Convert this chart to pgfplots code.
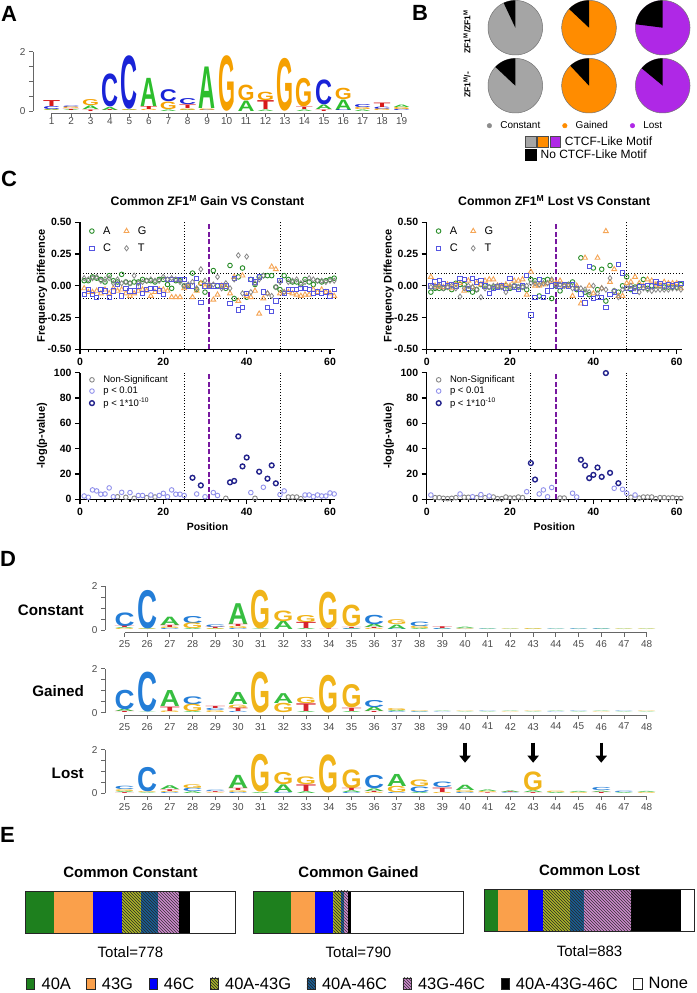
\documentclass[border=0pt]{standalone}
\usepackage{pgfplots}
\pgfplotsset{compat=1.18}
\usepackage{pgfplotstable}
\usepackage{graphicx}
\usepackage{fontspec}
\setmainfont{Liberation Sans}
\usetikzlibrary{arrows.meta,patterns}
\newcommand{\fs}[1]{\fontsize{#1}{#1}\selectfont}
\pgfplotsset{/pgf/number format/assume math mode=true}

\definecolor{aA}{RGB}{45,190,45}
\definecolor{aC}{RGB}{25,35,215}
\definecolor{aG}{RGB}{245,160,0}
\definecolor{aT}{RGB}{215,25,25}
\definecolor{dA}{RGB}{55,190,65}
\definecolor{dC}{RGB}{35,125,215}
\definecolor{dG}{RGB}{240,180,25}
\definecolor{dT}{RGB}{215,35,45}
\definecolor{cA}{RGB}{40,140,40}
\definecolor{cC}{RGB}{85,85,225}
\definecolor{cG}{RGB}{245,165,85}
\definecolor{cT}{RGB}{135,135,135}
\definecolor{pNS}{RGB}{135,135,135}
\definecolor{pLo}{RGB}{145,145,235}
\definecolor{pHi}{RGB}{35,35,140}
\definecolor{purp}{RGB}{120,25,160}
\definecolor{pieG}{RGB}{165,165,165}
\definecolor{pieO}{RGB}{255,140,0}
\definecolor{pieP}{RGB}{175,40,230}
\definecolor{e40A}{RGB}{30,128,30}
\definecolor{e43G}{RGB}{250,160,75}
\definecolor{e46C}{RGB}{0,0,250}
\definecolor{e4043}{RGB}{170,180,40}
\definecolor{e4046}{RGB}{25,95,150}
\definecolor{e4346}{RGB}{205,135,205}

\pgfplotsset{
 logo/.style={scale only axis, clip=false, enlargelimits=false,
  axis x line*=bottom, axis y line*=left,
  axis line style={-, draw=black!60, line width=0.9pt},
  tick style={draw=black!60, line width=0.9pt},
  tick align=outside, major tick length=4pt, minor tick length=4pt,
  ticklabel style={font=\fs{10}, text=black!70},
  ytick={0,2}, minor ytick={0.5,1,1.5}, ymax=2},
 lg/.style n args={5}{only marks, scatter, mark=*, mark size=0pt, mark options={draw=none,fill=none},
  point meta=explicit symbolic,
  restrict expr to domain={\thisrow{k}}{#1:#1},
  scatter/@pre marker code/.code={\node[anchor=south, inner sep=0pt, outer sep=0pt] at (0pt,0pt) {\textcolor{#3#2}{\resizebox{#4}{\pgfplotspointmeta\dimexpr#5\relax}{\fs{40}\bfseries #2}}};},
  scatter/@post marker code/.code={}},
 cax/.style={scale only axis, width=255pt, clip=false,
  axis x line*=bottom, axis y line*=left,
  axis line style={-, line width=1.5pt},
  tick style={line width=1.3pt, black}, tick align=outside,
  major tick length=5pt, minor tick length=3pt,
  xmin=0, xmax=61.2, xtick={0,20,40,60}, minor x tick num=9,
  ticklabel style={font=\bfseries\fs{10.5}},
  every axis title/.style={at={(axis description cs:0.5,1)}, anchor=center, yshift=21.6pt, font=\bfseries\fs{12.3}},
  every axis y label/.style={at={(axis description cs:-0.149,0.5)}, rotate=90, anchor=center, font=\bfseries\fs{11}},
  every axis x label/.style={at={(axis description cs:0.5,0)}, anchor=center, yshift=-27pt, font=\bfseries\fs{10.5}},
  legend cell align=left},
 mA/.style={only marks, mark=o, mark size=2.3pt, color=cA, line width=0.9pt},
 mC/.style={only marks, mark=square, mark size=2.2pt, color=cC, line width=0.9pt},
 mG/.style={only marks, mark=triangle, mark size=2.8pt, color=cG, line width=0.9pt},
 mT/.style={only marks, mark=diamond, mark size=2.6pt, color=cT, line width=0.8pt},
 mNS/.style={only marks, mark=o, mark size=2.3pt, color=pNS, line width=0.9pt},
 mLo/.style={only marks, mark=o, mark size=2.3pt, color=pLo, line width=0.9pt},
 mHi/.style={only marks, mark=o, mark size=2.4pt, color=pHi, line width=1.4pt},
 refd/.style={black, dotted, line width=0.8pt, forget plot},
 refp/.style={purp, line width=2.4pt, dash pattern=on 5pt off 2.5pt, forget plot},
 ebar/.style={scale only axis, width=210.3pt, height=42pt, xbar stacked, bar width=42pt,
  ymin=-0.5, ymax=0.5, xmin=0, enlargelimits=false, axis on top,
  axis line style={black!85, line width=0.9pt}, xtick=\empty, ytick=\empty,
  every axis title/.style={at={(axis description cs:0.5,1)}, anchor=center, yshift=19pt, font=\bfseries\fs{15}},
  every axis x label/.style={at={(axis description cs:0.5,0)}, anchor=center, yshift=-19pt, font=\fs{15}},
  legend image code/.code={\draw[#1, draw=black!85, line width=0.6pt] (0pt,-5.6pt) rectangle (8.3pt,6.1pt);}},
}
% #1 table, #2 colour prefix, #3 letter width, #4 height of one bit
\newcommand{\logoplots}[4]{%
 \addplot[lg={1}{A}{#2}{#3}{#4}] table[x=x,y=b,meta=h] {#1};
 \addplot[lg={2}{C}{#2}{#3}{#4}] table[x=x,y=b,meta=h] {#1};
 \addplot[lg={3}{G}{#2}{#3}{#4}] table[x=x,y=b,meta=h] {#1};
 \addplot[lg={4}{T}{#2}{#3}{#4}] table[x=x,y=b,meta=h] {#1};
}

\newcommand{\pie}[4]{%
 \addplot[forget plot, fill=#3, draw=black!55, line width=0.5pt, domain=0:360, samples=121, variable=\t] ({#1+27.3*cos(\t)},{#2+27.3*sin(\t)}) -- cycle;
 \addplot[forget plot, fill=black, draw=none, domain=90:90+360*#4, samples=40, variable=\t] ({#1+27.3*cos(\t)},{#2+27.3*sin(\t)}) -- (#1,#2) -- cycle;
}

% ---------- logo data (k: 1=A 2=C 3=G 4=T) ----------
\pgfplotstableread{
x b h k
1 0 0.02 3
1 0.02 0.04 1
1 0.06 0.10 2
1 0.16 0.20 4
2 0 0.03 1
2 0.03 0.04 4
2 0.07 0.05 3
2 0.12 0.05 2
3 0 0.05 4
3 0.05 0.12 1
3 0.17 0.20 3
4 0 0.03 4
4 0.03 0.10 1
4 0.13 1.10 2
5 0 0.03 1
5 0.03 0.03 3
5 0.06 1.78 2
6 0 0.04 3
6 0.04 0.10 4
6 0.14 0.95 1
7 0 0.05 1
7 0.05 0.25 3
7 0.30 0.40 2
8 0 0.03 1
8 0.03 0.05 3
8 0.08 0.12 4
8 0.20 0.20 2
9 0 0.03 2
9 0.03 0.05 3
9 0.08 1.40 1
10 0 1.85 3
11 0 0.35 1
11 0.35 0.52 3
12 0 0.05 1
12 0.05 0.30 4
12 0.35 0.28 3
13 0 1.76 3
14 0 0.05 1
14 0.05 0.08 4
14 0.13 0.95 3
15 0 0.05 4
15 0.05 0.15 1
15 0.20 0.83 2
16 0 0.03 2
16 0.03 0.35 1
16 0.38 0.38 3
17 0 0.05 1
17 0.05 0.07 3
17 0.12 0.10 2
18 0 0.05 3
18 0.05 0.08 2
18 0.13 0.15 4
19 0 0.04 2
19 0.04 0.07 3
19 0.11 0.08 1
}\lgAtab

\pgfplotstableread{
x b h k
25 0 0.05 3
25 0.05 0.05 1
25 0.10 0.06 4
25 0.16 0.62 2
26 0 0.03 1
26 0.03 0.03 3
26 0.06 1.74 2
27 0 0.05 2
27 0.05 0.07 3
27 0.12 0.10 4
27 0.22 0.38 1
28 0 0.05 1
28 0.05 0.25 3
28 0.30 0.32 2
29 0 0.03 1
29 0.03 0.04 3
29 0.07 0.06 4
29 0.13 0.12 2
30 0 0.05 2
30 0.05 0.10 3
30 0.15 0.10 4
30 0.25 0.95 1
31 0 0.03 1
31 0.03 1.75 3
32 0 0.38 1
32 0.38 0.48 3
33 0 0.05 1
33 0.05 0.28 4
33 0.33 0.32 3
34 0 0.03 4
34 0.03 1.66 3
35 0 0.04 1
35 0.04 0.04 2
35 0.08 0.05 4
35 0.13 0.98 3
36 0 0.05 3
36 0.05 0.05 4
36 0.10 0.15 1
36 0.25 0.42 2
37 0 0.03 2
37 0.03 0.20 1
37 0.23 0.22 3
38 0 0.05 1
38 0.05 0.10 3
38 0.15 0.20 2
39 0 0.03 1
39 0.03 0.05 2
39 0.08 0.08 4
40 0 0.02 2
40 0.02 0.03 3
40 0.05 0.06 1
41 0 0.02 2
41 0.02 0.03 1
42 0 0.02 3
42 0.02 0.02 1
43 0 0.02 1
43 0.02 0.04 3
44 0 0.02 1
44 0.02 0.02 2
45 0 0.02 1
45 0.02 0.03 2
46 0 0.03 1
46 0.03 0.03 2
47 0 0.02 1
47 0.02 0.02 3
48 0 0.02 3
48 0.02 0.02 1
}\lgDc

\pgfplotstableread{
x b h k
25 0 0.05 4
25 0.05 0.10 1
25 0.15 0.88 2
26 0 0.02 1
26 0.02 1.80 2
27 0 0.07 3
27 0.07 0.20 4
27 0.27 0.73 1
28 0 0.05 1
28 0.05 0.33 3
28 0.38 0.35 2
29 0 0.08 3
29 0.08 0.10 2
29 0.18 0.10 4
30 0 0.05 2
30 0.05 0.15 4
30 0.20 0.15 3
30 0.35 0.55 1
31 0 1.85 3
32 0 0.42 3
32 0.42 0.45 1
33 0 0.05 1
33 0.05 0.35 4
33 0.40 0.28 3
34 0 1.70 3
35 0 0.05 1
35 0.05 0.15 4
35 0.20 1.05 3
36 0 0.05 4
36 0.05 0.20 1
36 0.25 0.32 2
37 0 0.04 2
37 0.04 0.05 1
37 0.09 0.09 3
38 0 0.02 1
38 0.02 0.03 2
38 0.05 0.03 3
39 0 0.02 2
39 0.02 0.02 1
40 0 0.02 1
40 0.02 0.02 3
41 0 0.02 1
41 0.02 0.02 2
42 0 0.02 3
42 0.02 0.02 1
43 0 0.02 1
43 0.02 0.02 3
44 0 0.02 2
44 0.02 0.02 1
45 0 0.02 1
45 0.02 0.02 2
46 0 0.02 3
46 0.02 0.02 1
47 0 0.02 1
47 0.02 0.02 2
48 0 0.02 1
48 0.02 0.02 3
}\lgDg

\pgfplotstableread{
x b h k
25 0 0.04 4
25 0.04 0.05 1
25 0.09 0.08 3
25 0.17 0.15 2
26 0 0.03 1
26 0.03 0.04 3
26 0.07 1.10 2
27 0 0.05 2
27 0.05 0.05 3
27 0.10 0.08 4
27 0.18 0.17 1
28 0 0.08 1
28 0.08 0.15 2
28 0.23 0.17 3
29 0 0.03 3
29 0.03 0.04 4
29 0.07 0.06 2
30 0 0.05 2
30 0.05 0.08 3
30 0.13 0.10 4
30 0.23 0.60 1
31 0 0.05 1
31 0.05 1.70 3
32 0 0.05 2
32 0.05 0.35 1
32 0.40 0.55 3
33 0 0.08 1
33 0.08 0.30 4
33 0.38 0.35 3
34 0 1.72 3
35 0 0.05 2
35 0.05 0.08 1
35 0.13 0.10 4
35 0.23 0.85 3
36 0 0.05 3
36 0.05 0.05 4
36 0.10 0.12 1
36 0.22 0.60 2
37 0 0.05 2
37 0.05 0.28 3
37 0.33 0.55 1
38 0 0.05 1
38 0.05 0.25 2
38 0.30 0.30 3
39 0 0.05 3
39 0.05 0.20 4
39 0.25 0.25 2
40 0 0.05 2
40 0.05 0.08 3
40 0.13 0.24 1
41 0 0.03 4
41 0.03 0.05 3
41 0.08 0.07 1
42 0 0.03 2
42 0.03 0.03 4
42 0.06 0.07 1
43 0 0.04 4
43 0.04 0.08 1
43 0.12 0.85 3
44 0 0.05 1
44 0.05 0.06 3
45 0 0.04 3
45 0.04 0.05 1
46 0 0.05 4
46 0.05 0.06 1
46 0.11 0.14 2
47 0 0.04 1
47 0.04 0.06 2
48 0 0.04 3
48 0.04 0.05 1
}\lgDl

% ---------- panel C data ----------
\pgfplotstableread{
pos A C G T
1 0.04 -0.07 -0.02 0.06
2 0.04 -0.03 -0.05 0.05
3 0.07 -0.07 -0.05 0.06
4 0.06 -0.09 -0.04 0.07
5 0.05 -0.03 -0.06 0.04
6 0.03 -0.04 -0.03 0.05
7 0.08 -0.09 -0.06 0.06
8 0.04 -0.04 -0.02 0.02
9 0.03 0.01 -0.04 0.05
10 0.09 -0.08 -0.03 0.02
11 0.03 -0.02 -0.06 0.03
12 0.02 -0.04 -0.08 0.02
13 0.03 -0.04 -0.06 0.08
14 0.03 0.00 -0.04 0.02
15 0.05 -0.06 -0.03 0.03
16 0.04 -0.03 -0.04 0.04
17 0.04 -0.02 -0.08 0.05
18 0.03 -0.02 -0.05 0.04
19 0.05 -0.04 -0.03 0.04
20 0.05 -0.07 -0.03 0.07
21 0.01 0.05 -0.04 0.05
22 -0.02 0.05 -0.09 0.06
23 0.04 0.05 -0.09 0.05
24 0.04 0.05 -0.09 0.03
25 0.00 0.05 -0.02 0.00
26 0.00 0.00 -0.01 0.01
27 0.10 0.00 -0.09 0.03
28 -0.03 0.06 -0.04 -0.02
29 0.02 -0.13 0.02 0.13
30 -0.05 0.00 -0.01 0.04
31 0.00 0.00 0.00 0.01
32 0.12 0.00 -0.11 0.01
33 0.00 0.00 -0.07 0.07
34 0.00 0.00 0.00 -0.02
35 -0.02 0.00 -0.01 0.02
36 0.16 -0.14 -0.06 -0.02
37 -0.10 0.06 0.07 0.05
38 0.07 -0.19 -0.12 0.24
39 0.14 -0.17 0.08 -0.06
40 -0.09 -0.06 -0.08 0.23
41 0.05 0.05 -0.09 -0.05
42 0.01 0.03 -0.04 0.02
43 0.07 0.07 -0.22 0.05
44 0.08 -0.05 -0.10 0.08
45 0.08 -0.17 -0.06 -0.06
46 0.08 -0.20 0.15 -0.08
47 -0.01 -0.12 0.13 -0.01
48 -0.03 0.04 -0.06 0.03
49 0.08 -0.06 -0.05 -0.05
50 0.05 -0.03 -0.05 0.03
51 0.03 -0.03 -0.06 0.04
52 0.03 -0.03 -0.07 0.05
53 0.01 -0.02 -0.08 0.02
54 0.05 -0.02 -0.07 0.03
55 0.03 -0.03 -0.07 0.06
56 0.01 -0.06 -0.03 0.05
57 0.04 -0.05 -0.05 0.04
58 0.03 -0.06 -0.03 0.04
59 0.04 -0.05 -0.05 0.03
60 0.05 -0.08 -0.06 0.04
61 0.06 -0.03 -0.08 0.04
}\fgain

\pgfplotstableread{
pos A C G T
1 -0.05 0.00 0.07 -0.01
2 -0.02 0.03 0.00 -0.01
3 -0.02 0.04 -0.01 0.00
4 -0.02 0.02 -0.01 -0.02
5 -0.01 0.00 0.01 -0.01
6 -0.03 0.01 -0.02 0.00
7 0.02 0.00 0.01 -0.02
8 0.01 0.06 0.02 -0.085
9 0.01 0.05 -0.04 -0.02
10 -0.03 -0.02 0.04 0.00
11 -0.05 0.06 -0.01 -0.01
12 -0.03 0.03 0.02 -0.03
13 0.01 0.04 0.01 -0.09
14 0.00 0.00 0.04 -0.02
15 -0.01 -0.06 0.05 -0.01
16 -0.01 -0.02 0.05 0.00
17 -0.01 -0.01 0.00 0.00
18 -0.01 0.00 0.00 -0.01
19 0.00 -0.02 0.01 -0.05
20 -0.02 0.06 0.00 -0.01
21 0.00 -0.01 0.04 0.00
22 -0.01 -0.03 0.04 -0.01
23 -0.01 0.00 0.05 -0.01
24 -0.03 0.08 -0.07 0.00
25 0.05 -0.23 0.11 0.02
26 0.04 -0.09 0.00 0.02
27 -0.08 0.05 0.00 0.01
28 0.04 -0.09 0.01 0.02
29 0.05 -0.04 0.02 0.02
30 -0.10 0.00 0.04 0.05
31 0.00 0.01 0.02 0.00
32 -0.04 0.00 0.04 0.01
33 0.00 0.01 0.00 0.00
34 0.01 0.00 0.00 0.01
35 0.03 0.01 -0.08 -0.02
36 -0.03 -0.02 0.00 -0.02
37 0.22 -0.065 -0.14 -0.02
38 -0.05 -0.135 0.22 -0.03
39 -0.07 0.15 0.00 -0.05
40 0.14 -0.10 -0.06 0.00
41 -0.03 -0.09 0.22 -0.06
42 0.13 -0.09 -0.02 -0.02
43 -0.12 -0.17 0.43 -0.03
44 0.16 -0.07 0.03 0.06
45 -0.04 -0.05 0.13 -0.04
46 -0.05 0.17 -0.08 -0.09
47 0.00 0.10 -0.08 -0.03
48 0.07 -0.02 0.02 -0.02
49 -0.03 -0.02 0.03 0.00
50 -0.01 -0.04 0.07 -0.02
51 0.00 -0.01 0.02 -0.05
52 0.05 -0.01 0.00 -0.02
53 -0.02 0.00 0.05 -0.03
54 0.00 0.00 0.04 -0.04
55 0.00 0.03 0.01 -0.03
56 0.00 0.02 0.00 -0.03
57 -0.01 0.00 0.03 -0.03
58 -0.01 0.01 0.02 -0.03
59 -0.01 0.00 0.02 -0.02
60 -0.01 0.01 0.02 -0.02
61 0.01 0.02 -0.02 -0.03
}\flost

\pgfplotstableread{
pos p
9 2.0
11 1.6
13 0.8
16 1.3
18 1.8
35 0.8
42 0.8
50 1.8
51 1.8
52 1.8
53 0.5
}\pgNS
\pgfplotstableread{
pos p
1 2.6
2 1.6
3 7.4
4 6.6
5 4.0
6 4.2
7 9.0
8 2.0
10 5.5
12 5.3
14 3.0
15 3.0
17 3.4
19 3.0
20 4.7
21 2.0
22 7.4
23 4.0
24 4.0
25 3.0
28 4.2
30 2.0
32 5.3
33 3.0
41 5.3
44 9.5
48 3.7
49 6.6
54 3.4
55 3.4
56 2.0
57 3.4
58 2.6
59 2.6
60 5.0
61 4.2
}\pgLo
\pgfplotstableread{
pos p
27 17.0
29 11.0
36 13.4
37 14.5
38 49.7
39 26.0
40 33.0
43 21.8
45 16.3
46 26.8
47 12.6
}\pgHi
\pgfplotstableread{
pos p
2 1.3
3 1.3
4 0.8
5 0.5
6 0.8
7 1.3
9 1.6
10 1.6
12 1.3
14 1.3
16 1.8
17 0.5
18 0.5
19 1.8
20 1.0
21 1.0
22 1.8
23 1.3
32 1.0
33 1.0
49 1.6
51 1.0
52 1.8
53 1.8
54 1.8
55 0.5
56 1.3
57 1.3
58 1.0
59 1.3
60 0.8
61 0.8
}\plNS
\pgfplotstableread{
pos p
1 3.4
8 4.2
11 2.0
13 3.7
15 2.6
24 6.0
27 4.2
28 7.4
29 2.0
30 9.3
35 4.8
36 1.8
45 8.7
47 7.9
48 4.8
50 3.4
}\plLo
\pgfplotstableread{
pos p
25 28.6
26 15.6
37 31.2
38 26.7
39 16.7
40 19.3
41 25.1
42 17.7
43 99.7
44 20.9
46 12.7
}\plHi

\begin{document}
\begin{tikzpicture}
\useasboundingbox (0pt,0pt) rectangle (696pt,993pt);

% panel letters
\node[anchor=base west, inner sep=0pt, font=\bfseries\fs{22}] at (1pt,971pt) {A};
\node[anchor=base west, inner sep=0pt, font=\bfseries\fs{22}] at (412pt,972pt) {B};
\node[anchor=base west, inner sep=0pt, font=\bfseries\fs{22}] at (1pt,806pt) {C};
\node[anchor=base west, inner sep=0pt, font=\bfseries\fs{22}] at (0pt,426pt) {D};
\node[anchor=base west, inner sep=0pt, font=\bfseries\fs{22}] at (0pt,150pt) {E};

% ---------- A ----------
\begin{axis}[logo, at={(33pt,879.9pt)}, anchor=south west, width=378.3pt, height=61.4pt,
  xmin=0.04, xmax=19.5, ymin=-0.07, xtick={1,...,19}, xticklabel style={yshift=3pt},
  x axis line style={shorten <=18.7pt, shorten >=9.7pt}, y axis line style={shorten <=2.1pt}]
\logoplots{\lgAtab}{a}{17pt}{29.65pt}
\end{axis}

% ---------- B ----------
\begin{axis}[hide axis, scale only axis, clip=false, at={(470pt,873pt)}, anchor=south west,
  width=226pt, height=120pt, xmin=470, xmax=696, ymin=873, ymax=993,
  legend columns=3, legend style={at={(0.0739,-0.0475)}, anchor=west, draw=none, fill=none, inner sep=0pt, font=\fs{10},
   /tikz/every even column/.append style={column sep=20pt}},
  legend image code/.code={\fill[#1] (2.3pt,0pt) circle (2.3pt); \path (0pt,0pt) (11pt,0pt);}]
\pie{515.3}{965.3}{pieG}{0.07}
\pie{589}{965.3}{pieO}{0.13}
\pie{662.7}{965.3}{pieP}{0.23}
\pie{515.3}{907.3}{pieG}{0.13}
\pie{589}{907.3}{pieO}{0.12}
\pie{662.7}{907.3}{pieP}{0.14}
\addlegendimage{black!45}\addlegendentry{Constant}
\addlegendimage{pieO}\addlegendentry{Gained}
\addlegendimage{pieP}\addlegendentry{Lost}
\end{axis}
\begin{axis}[hide axis, scale only axis, at={(524.3pt,851.3pt)}, anchor=south west, width=1pt, height=1pt,
  xmin=0, xmax=1, ymin=0, ymax=1,
  legend style={at={(0,0)}, anchor=west, draw=none, fill=none, inner sep=0pt, font=\fs{12}},
  legend image code/.code={\filldraw[fill=pieG, draw=black!70, line width=0.4pt] (0pt,-5.5pt) rectangle (11pt,5.5pt);
   \filldraw[fill=pieO, draw=black!70, line width=0.4pt] (12.5pt,-5.5pt) rectangle (23.5pt,5.5pt);
   \filldraw[fill=pieP, draw=black!70, line width=0.4pt] (25pt,-5.5pt) rectangle (35.5pt,5.5pt); \path (0pt,0pt) (38pt,0pt);}]
\addlegendimage{black}\addlegendentry{CTCF-Like Motif}
\end{axis}
\begin{axis}[hide axis, scale only axis, at={(525pt,838pt)}, anchor=south west, width=1pt, height=1pt,
  xmin=0, xmax=1, ymin=0, ymax=1,
  legend style={at={(0,0)}, anchor=west, draw=none, fill=none, inner sep=0pt, font=\fs{12}},
  legend image code/.code={\fill[black] (0pt,-5.5pt) rectangle (11pt,5.5pt); \path (0pt,0pt) (13pt,0pt);}]
\addlegendimage{black}\addlegendentry{No CTCF-Like Motif}
\end{axis}
\node[rotate=90, font=\bfseries\fs{8.5}, inner sep=0pt] at (467pt,961.3pt) {ZF1\textsuperscript{M}/ZF1\textsuperscript{M}};
\node[rotate=90, font=\bfseries\fs{8.5}, inner sep=0pt] at (467pt,908pt) {ZF1\textsuperscript{M}/-};

% ---------- C ----------
\begin{axis}[cax, at={(80pt,643.7pt)}, anchor=south west, height=127pt, ymin=-0.5, ymax=0.5,
  ytick={-0.5,-0.25,0,0.25,0.5}, yticklabel style={/pgf/number format/.cd, fixed, fixed zerofill, precision=2},
  title={Common ZF1\textsuperscript{M} Gain VS Constant}, ylabel={Frequency Difference},
  legend columns=2, legend style={at={(0.025,1)}, anchor=north west, draw=none, fill=none, font=\fs{11}, row sep=4pt,
   /tikz/every odd column/.append style={column sep=7pt}, /tikz/every even column/.append style={column sep=11pt}}]
\addplot[refd] coordinates {(0,0.1) (61.2,0.1)};
\addplot[refd] coordinates {(0,-0.1) (61.2,-0.1)};
\addplot[refd] coordinates {(25,-0.5) (25,0.5)};
\addplot[refd] coordinates {(48,-0.5) (48,0.5)};
\addplot[mA] table[x=pos,y=A] {\fgain}; \addlegendentry{A}
\addplot[mG] table[x=pos,y=G] {\fgain}; \addlegendentry{G}
\addplot[mC] table[x=pos,y=C] {\fgain}; \addlegendentry{C}
\addplot[mT] table[x=pos,y=T] {\fgain}; \addlegendentry{T}
\addplot[refp] coordinates {(31,-0.5) (31,0.5)};
\end{axis}

\begin{axis}[cax, at={(426.7pt,643.7pt)}, anchor=south west, height=127pt, ymin=-0.5, ymax=0.5,
  ytick={-0.5,-0.25,0,0.25,0.5}, yticklabel style={/pgf/number format/.cd, fixed, fixed zerofill, precision=2},
  title={Common ZF1\textsuperscript{M} Lost VS Constant}, ylabel={Frequency Difference},
  legend columns=2, legend style={at={(0.025,1)}, anchor=north west, draw=none, fill=none, font=\fs{11}, row sep=4pt,
   /tikz/every odd column/.append style={column sep=7pt}, /tikz/every even column/.append style={column sep=11pt}}]
\addplot[refd] coordinates {(0,0.1) (61.2,0.1)};
\addplot[refd] coordinates {(0,-0.1) (61.2,-0.1)};
\addplot[refd] coordinates {(25,-0.5) (25,0.5)};
\addplot[refd] coordinates {(48,-0.5) (48,0.5)};
\addplot[mA] table[x=pos,y=A] {\flost}; \addlegendentry{A}
\addplot[mG] table[x=pos,y=G] {\flost}; \addlegendentry{G}
\addplot[mC] table[x=pos,y=C] {\flost}; \addlegendentry{C}
\addplot[mT] table[x=pos,y=T] {\flost}; \addlegendentry{T}
\addplot[refp] coordinates {(31,-0.5) (31,0.5)};
\end{axis}

\begin{axis}[cax, at={(80pt,493.7pt)}, anchor=south west, height=126.6pt, ymin=0, ymax=100,
  ytick={0,20,...,100}, ylabel={-log(p-value)}, xlabel={Position},
  legend style={at={(0.025,1.01)}, anchor=north west, draw=none, fill=none, font=\fs{9.5}, row sep=-1pt,
   /tikz/every odd column/.append style={column sep=7pt}}]
\addplot[refd] coordinates {(25,0) (25,100)};
\addplot[refd] coordinates {(48,0) (48,100)};
\addplot[mNS] table[x=pos,y=p] {\pgNS}; \addlegendentry{Non-Significant}
\addplot[mLo] table[x=pos,y=p] {\pgLo}; \addlegendentry{p < 0.01}
\addplot[mHi] table[x=pos,y=p] {\pgHi}; \addlegendentry{p < 1*10\textsuperscript{-10}}
\addplot[refp] coordinates {(31,0) (31,100)};
\end{axis}

\begin{axis}[cax, at={(426.7pt,493.7pt)}, anchor=south west, height=126.6pt, ymin=0, ymax=100,
  ytick={0,20,...,100}, ylabel={-log(p-value)}, xlabel={Position},
  legend style={at={(0.025,1.01)}, anchor=north west, draw=none, fill=none, font=\fs{9.5}, row sep=-1pt,
   /tikz/every odd column/.append style={column sep=7pt}}]
\addplot[refd] coordinates {(25,0) (25,100)};
\addplot[refd] coordinates {(48,0) (48,100)};
\addplot[mNS] table[x=pos,y=p] {\plNS}; \addlegendentry{Non-Significant}
\addplot[mLo] table[x=pos,y=p] {\plLo}; \addlegendentry{p < 0.01}
\addplot[mHi] table[x=pos,y=p] {\plHi}; \addlegendentry{p < 1*10\textsuperscript{-10}}
\addplot[refp] coordinates {(31,0) (31,100)};
\end{axis}

% ---------- D ----------
\node[anchor=base east, inner sep=0pt, font=\bfseries\fs{15.2}] at (84pt,377.6pt) {Constant};
\node[anchor=base east, inner sep=0pt, font=\bfseries\fs{15.2}] at (84pt,296.9pt) {Gained};
\node[anchor=base east, inner sep=0pt, font=\bfseries\fs{15.2}] at (84pt,214.9pt) {Lost};
\begin{axis}[logo, at={(105pt,360.2pt)}, anchor=south west, width=553pt, height=46.6pt,
  xmin=24.14, xmax=48.5, ymin=-0.13, xtick={25,...,48},
  x axis line style={shorten <=19.5pt, shorten >=11.3pt}, y axis line style={shorten <=2.85pt}]
\logoplots{\lgDc}{d}{20pt}{21.9pt}
\end{axis}
\begin{axis}[logo, at={(105pt,277.5pt)}, anchor=south west, width=553pt, height=46.6pt,
  xmin=24.14, xmax=48.5, ymin=-0.13, xtick={25,...,48},
  x axis line style={shorten <=19.5pt, shorten >=11.3pt}, y axis line style={shorten <=2.85pt}]
\logoplots{\lgDg}{d}{20pt}{21.9pt}
\end{axis}
\begin{axis}[logo, at={(105pt,196.8pt)}, anchor=south west, width=553pt, height=46.6pt,
  xmin=24.14, xmax=48.5, ymin=-0.13, xtick={25,...,48},
  x axis line style={shorten <=19.5pt, shorten >=11.3pt}, y axis line style={shorten <=2.85pt}]
\logoplots{\lgDl}{d}{20pt}{21.9pt}
\addplot[black, line width=3.5pt, -{Triangle[width=11pt,length=7pt]}, quiver={u=\thisrow{u}, v=\thisrow{v}}] table[x=x,y=y] {
x y u v
40 2.32 0 -0.92
43 2.32 0 -0.92
46 2.32 0 -0.92
};
\end{axis}

% ---------- E ----------
\begin{axis}[ebar, at={(25.3pt,60pt)}, anchor=south west, xmax=778, title={Common Constant}, xlabel={Total=778},
  legend columns=8, legend style={at={(0.0033,-1.214)}, anchor=west, draw=none, fill=none, inner sep=0pt, font=\fs{16.5},
   nodes={inner sep=0pt},
   /tikz/every even column/.append style={column sep=15.5pt}, /tikz/every odd column/.append style={column sep=6.5pt}}]
\addplot[fill=e40A, draw=none] coordinates {(108,0)}; \addlegendentry{40A}
\addplot[fill=e43G, draw=none] coordinates {(144,0)}; \addlegendentry{43G}
\addplot[fill=e46C, draw=none] coordinates {(105,0)}; \addlegendentry{46C}
\addplot[fill=e4043, draw=none, postaction={pattern=north west lines, pattern color=black!85}] coordinates {(70,0)}; \addlegendentry{40A-43G}
\addplot[fill=e4046, draw=none, postaction={pattern=north west lines, pattern color=black!85}] coordinates {(65,0)}; \addlegendentry{40A-46C}
\addplot[fill=e4346, draw=none, postaction={pattern=north west lines, pattern color=black!80}] coordinates {(76,0)}; \addlegendentry{43G-46C}
\addplot[fill=black, draw=none] coordinates {(41,0)}; \addlegendentry{40A-43G-46C}
\addplot[fill=white, draw=none] coordinates {(169,0)}; \addlegendentry{None}
\end{axis}
\begin{axis}[ebar, at={(253.3pt,60pt)}, anchor=south west, xmax=790, title={Common Gained}, xlabel={Total=790}]
\addplot[fill=e40A, draw=none] coordinates {(142,0)};
\addplot[fill=e43G, draw=none] coordinates {(89,0)};
\addplot[fill=e46C, draw=none] coordinates {(70,0)};
\addplot[fill=e4043, draw=none, postaction={pattern=north west lines, pattern color=black!85}] coordinates {(28,0)};
\addplot[fill=e4046, draw=none, postaction={pattern=north west lines, pattern color=black!85}] coordinates {(13,0)};
\addplot[fill=e4346, draw=none, postaction={pattern=north west lines, pattern color=black!80}] coordinates {(13,0)};
\addplot[fill=black, draw=none] coordinates {(12,0)};
\addplot[fill=white, draw=none] coordinates {(423,0)};
\end{axis}
\begin{axis}[ebar, at={(484.4pt,61.3pt)}, anchor=south west, xmax=883, title={Common Lost}, xlabel={Total=883}]
\addplot[fill=e40A, draw=none] coordinates {(59,0)};
\addplot[fill=e43G, draw=none] coordinates {(126,0)};
\addplot[fill=e46C, draw=none] coordinates {(59,0)};
\addplot[fill=e4043, draw=none, postaction={pattern=north west lines, pattern color=black!85}] coordinates {(117,0)};
\addplot[fill=e4046, draw=none, postaction={pattern=north west lines, pattern color=black!85}] coordinates {(56,0)};
\addplot[fill=e4346, draw=none, postaction={pattern=north west lines, pattern color=black!80}] coordinates {(200,0)};
\addplot[fill=black, draw=none] coordinates {(210,0)};
\addplot[fill=white, draw=none] coordinates {(56,0)};
\end{axis}
\end{tikzpicture}
\end{document}
